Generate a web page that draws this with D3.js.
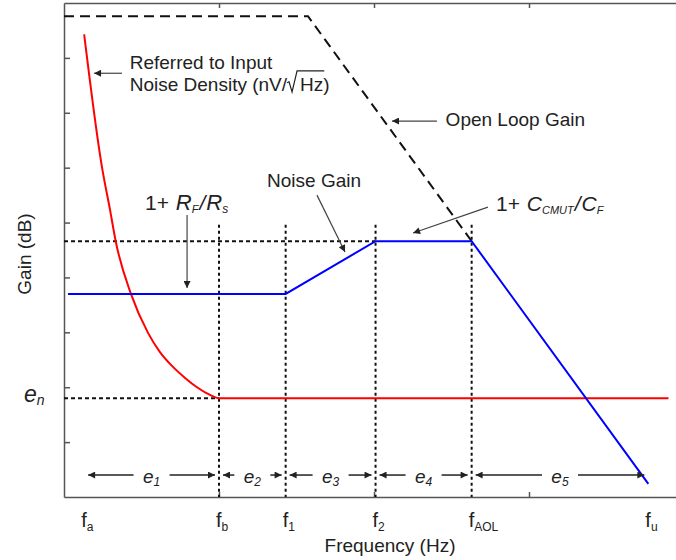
<!DOCTYPE html>
<html>
<head>
<meta charset="UTF-8">
<title>Noise Gain</title>
<style>
body { margin: 0; background: #fff; }
text {
  font-family: "Liberation Sans", Arial, sans-serif;
  fill: #222;
}
</style>
</head>
<body>
<svg width="676" height="560"></svg>
<script src="https://d3js.org/d3.v7.min.js"></script>
<script>
// frequency markers (x unit = one tick step of the frame)
var freqNames = ["a", "b", "1", "2", "AOL", "u"];
var freqPos   = [0.13, 1.0, 1.43, 2.01, 2.63, 3.77];

var xTicks = [1, 2, 3];
var yTicks = [1, 2, 3, 4, 5, 6, 7, 8];

// referred to input noise density (red)
var noiseX = [0.13, 0.245, 0.297, 0.335, 0.432, 0.542, 0.619, 0.703, 0.781, 0.858, 0.942, 1.0, 3.90];
var noiseY = [8.43, 6.01, 5.23, 4.64, 3.70, 2.99, 2.64, 2.37, 2.17, 2.00, 1.86, 1.80, 1.80];

// noise gain (blue)
var gainX = [0.026, 1.43, 2.01, 2.63, 3.77];
var gainY = [3.70, 3.70, 4.66, 4.66, 0.24];

// open loop gain (dashed)
var olX = [0, 1.574, 2.63];
var olY = [8.76, 8.76, 4.66];

var enLevel = 1.80, gainHigh = 4.66;
var regionNames = ["1", "2", "3", "4", "5"];

var svg = d3.select("svg"),
    x = d3.scaleLinear().domain([0, 4]).range([64, 684]),
    y = d3.scaleLinear().domain([0, 9]).range([497, 3]);

var defs = svg.append("defs");
function marker(id, w, h) {
  defs.append("marker")
    .attr("id", id)
    .attr("viewBox", "0 0 10 10")
    .attr("refX", 10).attr("refY", 5)
    .attr("markerWidth", w).attr("markerHeight", h)
    .attr("markerUnits", "userSpaceOnUse")
    .attr("orient", "auto")
    .append("path").attr("d", "M0,0L10,5L0,10z").attr("fill", "#222");
}
marker("headS", 9, 7);
marker("headB", 10, 7);

// frame
function styleAxis(g) {
  g.attr("color", "#555");
  g.selectAll("path, line").attr("stroke-width", 1.5);
}
svg.append("g").attr("transform", "translate(64,0)")
  .call(d3.axisLeft(y).tickValues(yTicks).tickSize(-6).tickSizeOuter(0).tickFormat(""))
  .call(styleAxis);
svg.append("g").attr("transform", "translate(0,3)")
  .call(d3.axisTop(x).tickValues(xTicks).tickSize(-5).tickSizeOuter(0).tickFormat(""))
  .call(styleAxis);
svg.append("g").attr("transform", "translate(0,497)")
  .call(d3.axisBottom(x).tickValues(xTicks).tickSize(-5).tickSizeOuter(0).tickFormat(""))
  .call(styleAxis);

// dotted guides
var guides = svg.append("g").attr("stroke", "#111").attr("stroke-width", 2);
guides.append("line")
  .attr("x1", x(0)).attr("x2", x(freqPos[3]))
  .attr("y1", y(gainHigh)).attr("y2", y(gainHigh))
  .attr("stroke-dasharray", "4,3");
guides.append("line")
  .attr("x1", x(0)).attr("x2", x(freqPos[1]))
  .attr("y1", y(enLevel)).attr("y2", y(enLevel))
  .attr("stroke-dasharray", "4,3");
guides.selectAll(".v").data(freqPos.slice(1, 5)).enter().append("line")
  .attr("x1", function(d) { return x(d); }).attr("x2", function(d) { return x(d); })
  .attr("y1", y(gainHigh + 0.3)).attr("y2", y(0))
  .attr("stroke-dasharray", "3,3");

var line = d3.line().x(function(d) { return x(d[0]); }).y(function(d) { return y(d[1]); });

svg.append("path")
  .datum(d3.zip(olX, olY))
  .attr("d", line)
  .attr("fill", "none").attr("stroke", "#111").attr("stroke-width", 2)
  .attr("stroke-dasharray", "10,6");

svg.append("path")
  .datum(d3.zip(noiseX, noiseY))
  .attr("d", line.curve(d3.curveMonotoneX))
  .attr("fill", "none").attr("stroke", "#ff0000").attr("stroke-width", 2);
line.curve(d3.curveLinear);

svg.append("path")
  .datum(d3.zip(gainX, gainY))
  .attr("d", line)
  .attr("fill", "none").attr("stroke", "#0000ff").attr("stroke-width", 2);

// rich text helper: parts = [text, italic, size, dy, dx]
function rich(px, py, parts, anchor) {
  var t = svg.append("text").attr("x", px).attr("y", py)
    .attr("text-anchor", anchor || "start");
  parts.forEach(function(p) {
    t.append("tspan").text(p[0])
      .attr("font-style", p[1] ? "italic" : "normal")
      .attr("font-size", p[2] + "px")
      .attr("dy", p[3] || 0)
      .attr("dx", p[4] || 0);
  });
  return t;
}

function arrow(x1, y1, x2, y2, head, w, col) {
  svg.append("line")
    .attr("x1", x(x1)).attr("y1", y(y1)).attr("x2", x(x2)).attr("y2", y(y2))
    .attr("stroke", col).attr("stroke-width", w)
    .attr("marker-end", "url(#" + head + ")");
}

// annotations
rich(x(0.424), y(7.80), [["Referred to Input", false, 19]]);
var nd = rich(x(0.424), y(7.40), [["Noise Density (nV/", false, 19], ["Hz", false, 19, 0, 13], [")", false, 19]]);
(function() {
  var node = nd.node(), b = y(7.40);
  var hx = node.getStartPositionOfChar(18).x;
  var zx = node.getEndPositionOfChar(19).x;
  svg.append("path")
    .attr("d", "M" + (hx - 13) + "," + (b - 8) + "L" + (hx - 11) + "," + (b - 9) +
      "L" + (hx - 8) + "," + (b + 1) + "L" + (hx - 3) + "," + (b - 20) + "L" + (zx + 1) + "," + (b - 20))
    .attr("fill", "none").attr("stroke", "#222").attr("stroke-width", 1.2);
})();
arrow(0.374, 7.72, 0.194, 7.72, "headS", 1.2, "#444");

rich(x(2.462), y(6.757), [["Open Loop Gain", false, 19]]);
arrow(2.406, 6.849, 2.116, 6.849, "headS", 1.2, "#444");

rich(x(1.310), y(5.647), [["Noise Gain", false, 19]]);
arrow(1.632, 5.50, 1.813, 4.463, "headS", 1.2, "#444");

rich(x(0.523), y(5.228), [["1+ ", false, 21], ["R", true, 22, 0, 1], ["F", true, 11, 3], ["/", true, 21, -3, 1], ["R", true, 22, 0, 1], ["s", true, 12, 3]]);
arrow(0.794, 5.137, 0.794, 3.807, "headS", 1.2, "#444");

rich(x(2.787), y(5.21), [["1+ ", false, 21], ["C", true, 21, 0, 1], ["CMUT", true, 11, 3], ["/", true, 21, -3, 1], ["C", true, 21, 0, 1], ["F", true, 11, 3]]);
arrow(2.735, 5.282, 2.252, 4.809, "headS", 1.2, "#444");

rich(x(0) - 40, y(enLevel) + 4, [["e", true, 23], ["n", true, 14, 3]]);

// frequency labels
freqNames.forEach(function(n, i) {
  rich(x(freqPos[i]) - 3, 527, [["f", false, 20], [n, false, 12, 4]]);
});

// region labels with arrows
regionNames.forEach(function(n, i) {
  var a = freqPos[i], b = freqPos[i + 1], cx = (x(a) + x(b)) / 2;
  rich(cx, y(0.255), [["e", true, 19], [n, true, 12, 3]], "middle");
  arrow(x.invert(cx - 18), 0.40, x.invert(x(a) + 4), 0.40, "headB", 1.5, "#222");
  arrow(x.invert(cx + 18), 0.40, x.invert(x(b) - 4), 0.40, "headB", 1.5, "#222");
});

// axis titles
svg.append("text").attr("x", 390).attr("y", 552)
  .attr("text-anchor", "middle").attr("font-size", "19px").text("Frequency (Hz)");
svg.append("text").attr("transform", "translate(31,254) rotate(-90)")
  .attr("text-anchor", "middle").attr("font-size", "19px").text("Gain (dB)");
</script>
</body>
</html>
